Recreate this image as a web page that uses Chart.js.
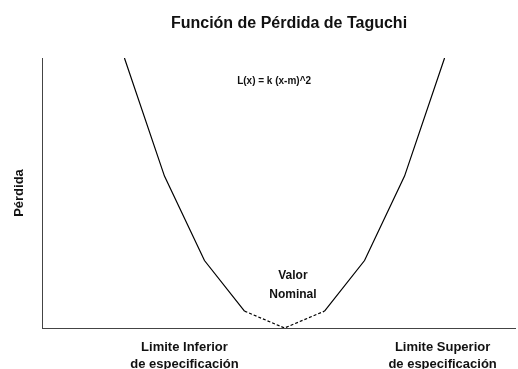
<!DOCTYPE html>
<html><head><meta charset="utf-8">
<script src="https://cdn.jsdelivr.net/npm/chart.js@4"></script>
<style>html,body{margin:0;padding:0;background:#fff}#wrap{width:518px;height:369px}</style>
</head><body><div id="wrap"><canvas id="c" width="518" height="369"></canvas></div>
<script>
const chartTitle = 'Función de Pérdida de Taguchi';
const yAxisTitle = 'Pérdida';
const xValues = [-4, -3, -2, -1, 0, 1, 2, 3, 4];
const lossValues = [16, 9, 4, 1, 0, 1, 4, 9, 16];
const xTickValues = [-2.5, 3.95];
const xTickLabels = [['Limite Inferior', 'de especificación'], ['Limite Superior', 'de especificación']];
const formulaLabel = 'L(x) = k (x-m)^2';
const nominalLabel = ['Valor', 'Nominal'];

const FONT = '"Liberation Sans", Arial, sans-serif';
Chart.defaults.font.family = FONT;
Chart.defaults.color = '#111';

const textPlugin = {
  id: 'texts',
  afterDraw(chart) {
    const {ctx, scales: {x, y}} = chart;
    ctx.save();
    ctx.fillStyle = '#111';
    ctx.textAlign = 'center';
    ctx.textBaseline = 'middle';
    ctx.font = 'bold 16px ' + FONT;
    ctx.fillText(chartTitle, 289, 24);
    ctx.font = 'bold 10px ' + FONT;
    ctx.fillText(formulaLabel, x.getPixelForValue(-0.26), y.getPixelForValue(14.64));
    ctx.font = 'bold 12px ' + FONT;
    ctx.fillText(nominalLabel[0], x.getPixelForValue(0.21), y.getPixelForValue(3.08));
    ctx.fillText(nominalLabel[1], x.getPixelForValue(0.21), y.getPixelForValue(1.96));
    ctx.restore();
  }
};

new Chart(document.getElementById('c'), {
  type: 'line',
  data: {
    datasets: [{
      data: xValues.map((v, i) => ({x: v, y: lossValues[i]})),
      borderColor: '#000',
      borderWidth: 1.2,
      pointRadius: 0,
      tension: 0,
      fill: false,
      segment: {
        borderDash: ctx => (ctx.p0DataIndex === 3 || ctx.p0DataIndex === 4) ? [3, 2] : undefined
      }
    }]
  },
  options: {
    responsive: false,
    animation: false,
    layout: {padding: {top: 58, right: 3, left: 0, bottom: 0}},
    plugins: {legend: {display: false}, title: {display: false}, tooltip: {enabled: false}},
    scales: {
      x: {
        type: 'linear',
        min: -6.06,
        max: 5.76,
        grid: {display: false, drawTicks: false},
        border: {display: true, color: '#444', width: 1},
        afterBuildTicks: s => { s.ticks = xTickValues.map(v => ({value: v})); },
        afterFit: s => { s.height = 41; },
        ticks: {
          autoSkip: false,
          maxRotation: 0,
          padding: 10.5,
          font: {size: 13, weight: 'bold', lineHeight: 17 / 13},
          color: '#111',
          callback: (v, i) => xTickLabels[i]
        }
      },
      y: {
        min: 0,
        max: 16,
        grid: {display: false, drawTicks: false},
        border: {display: true, color: '#444', width: 1},
        ticks: {display: false},
        afterFit: s => { s.width = 42; },
        title: {
          display: true,
          text: yAxisTitle,
          font: {size: 13, weight: 'bold', lineHeight: 1.2},
          color: '#111',
          padding: {top: 11.2, bottom: 0}
        }
      }
    }
  },
  plugins: [textPlugin]
});
</script>
</body></html>
